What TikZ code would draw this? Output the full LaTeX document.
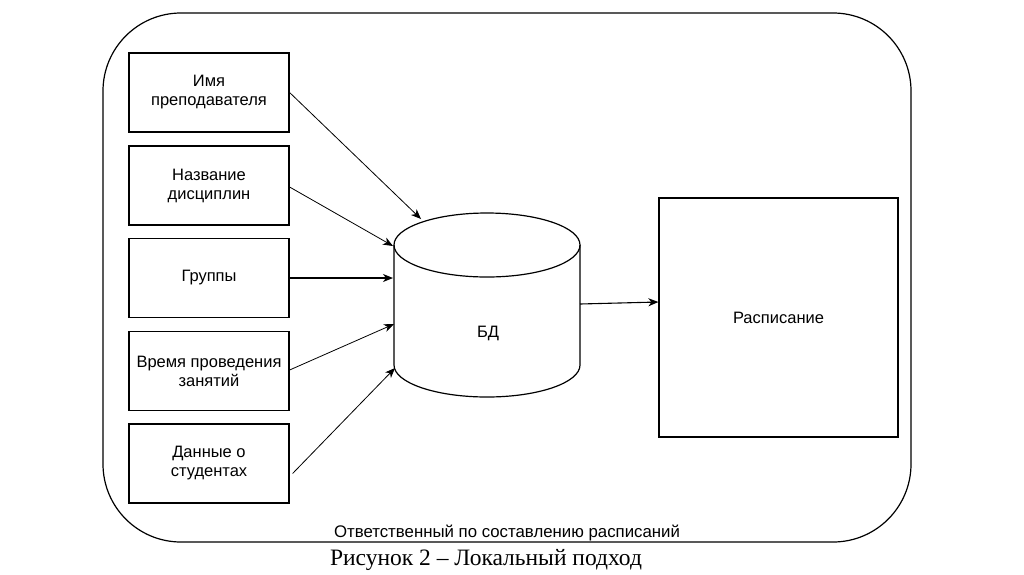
\documentclass[tikz,border=0pt]{standalone}
\usepackage{fontspec}
\setmainfont{Liberation Serif}
\newfontfamily\diagfont{Liberation Sans}
\usetikzlibrary{arrows.meta,calc}
\tikzset{
  inbox/.style={draw=black, line width=1.2pt, minimum width=160pt, minimum height=79pt, inner sep=0pt, align=center, font=\diagfont\fontsize{16.5}{19}\selectfont},
  arr/.style={line width=0.8pt, -{Stealth[length=10pt,width=8pt,inset=3pt]}},
  frame/.style={draw=black, line width=1.2pt, rounded corners=78pt},
}
\begin{document}
\begin{tikzpicture}[x=1pt,y=-1pt]
\useasboundingbox (0,0) rectangle (1024,574);
% outer frame
\draw[frame] (103,13) rectangle (911,542);
% input boxes
\node[inbox] (s1) at (209,92.5) {Имя\\преподавателя};
\node[inbox] (s2) at (209,185.5) {Название\\дисциплин};
\node[inbox] (s3) at (209,278) {Группы};
\node[inbox] (s4) at (209,371) {Время проведения\\занятий};
\node[inbox] (s5) at (209,463.5) {Данные о\\студентах};
% database cylinder
\draw[line width=1.2pt] (394,245) -- (394,365) arc[start angle=180, end angle=0, x radius=93, y radius=32] -- (580,245);
\draw[line width=1.2pt] (487,245) ellipse[x radius=93, y radius=32];
\node[font=\diagfont\fontsize{16.5}{19}\selectfont] (db) at (488,333) {БД};
\coordinate (t1) at (421,219);
\coordinate (t2) at (393,246);
\coordinate (t3) at (393,278);
\coordinate (t4) at (394,324);
\coordinate (t5) at (395,368);
\coordinate (dbout) at (580,304);
% schedule box
\node[draw=black, line width=1.2pt, minimum width=239pt, minimum height=239pt, inner sep=0pt, font=\diagfont\fontsize{16.5}{19}\selectfont] (rasp) at (778.5,317.5) {Расписание};
% arrows
\draw[arr] (s1.east) -- (t1);
\draw[arr] ([yshift=-1.5pt]s2.east) -- (t2);
\draw[arr, line width=1.3pt] (s3.east) -- (t3);
\draw[arr] ([yshift=1pt]s4.east) -- (t4);
\draw[arr] ([xshift=3pt,yshift=-10pt]s5.east) -- (t5);
\draw[arr, line width=1.1pt] (dbout) -- ([yshift=15.5pt]rasp.west);
% labels
\node[font=\diagfont\fontsize{16.8}{19}\selectfont, inner sep=0pt, anchor=base] (resp) at (507,537) {Ответственный по составлению расписаний};
\node[font=\fontsize{23.5}{27}\selectfont, inner sep=0pt, anchor=base] (cap) at (486,565) {Рисунок 2 – Локальный подход};
\end{tikzpicture}
\end{document}
